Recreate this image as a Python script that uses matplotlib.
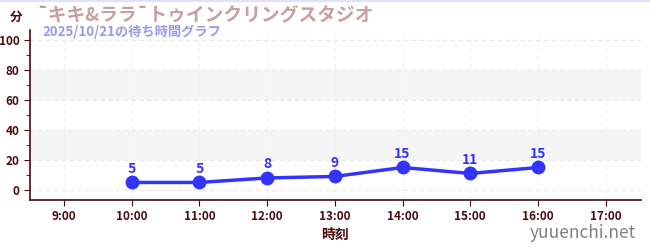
import matplotlib
matplotlib.use("Agg")
import matplotlib.pyplot as plt
from matplotlib.ticker import MultipleLocator

plt.rcParams['font.family'] = ['Noto Sans CJK JP', 'DejaVu Sans']

# data
hours = [10, 11, 12, 13, 14, 15, 16]
waits = [5, 5, 8, 9, 15, 11, 15]
xticks = [9, 10, 11, 12, 13, 14, 15, 16, 17]
xlabels = ["9:00", "10:00", "11:00", "12:00", "13:00", "14:00", "15:00", "16:00", "17:00"]
yticks = [0, 20, 40, 60, 80, 100]

title = "¯キキ&ララ¯トゥインクリングスタジオ"
subtitle = "2025/10/21の待ち時間グラフ"

dark = "#4a0a0a"
blue = "#3333ff"

fig = plt.figure(figsize=(6.5, 2.5), dpi=100)
ax = fig.add_axes([30/650, 50/250, 611/650, 170/250])

ax.set_xlim(8.5, 17.52)
ax.set_ylim(-6.7, 106.7)

# alternating bands
for lo in (20, 60):
    ax.axhspan(lo, lo + 20, color="#f5f5f5", zorder=0, lw=0)

for y in yticks:
    ax.axhline(y, color="#e8e8e8", ls=(0, (4, 3)), lw=0.8, zorder=0.5)
for x in xticks:
    ax.axvline(x, color="#f0f0f0", ls=(0, (4, 3)), lw=0.8, zorder=0.5)

ax.plot(hours, waits, color=blue, lw=2.5, marker="o", ms=9, zorder=3)
for h, w in zip(hours, waits):
    ax.annotate(str(w), (h, w), xytext=(0, 5), textcoords="offset points",
                ha="center", va="bottom", color=blue, fontsize=10, fontweight="bold")

ax.set_xticks(xticks)
ax.set_xticklabels(xlabels)
ax.set_yticks(yticks)
ax.yaxis.set_minor_locator(MultipleLocator(10))
ax.tick_params(axis="both", colors=dark, labelsize=8.5, length=4, width=0.8)
ax.tick_params(axis="y", which="minor", colors="#cc0000", length=3, width=0.8)
for lab in ax.get_xticklabels() + ax.get_yticklabels():
    lab.set_fontweight("bold")
    lab.set_color(dark)

for s in ("top", "right"):
    ax.spines[s].set_visible(False)
for s in ("left", "bottom"):
    ax.spines[s].set_color(dark)
    ax.spines[s].set_linewidth(1.2)

ax.set_xlabel("時刻", color=dark, fontsize=10, fontweight="bold", labelpad=3)

fig.text(16/650, 1 - 17/250, "分", color=dark, fontsize=9, fontweight="bold",
         ha="center", va="center")
fig.text(36/650, 1 - 15/250, title, color="#c8a0a0", fontsize=13.5, fontweight="bold",
         ha="left", va="center")
fig.text(42/650, 1 - 32/250, subtitle, color="#9999ee", fontsize=9.5, fontweight="bold",
         ha="left", va="center")
fig.text(636/650, 1 - 233/250, "yuuenchi.net", color="#808080", fontsize=12.5,
         ha="right", va="center")

fig.add_artist(plt.Line2D([0, 1], [0.998, 0.998], color="#e0e0ff", lw=1.5,
                          transform=fig.transFigure))

fig.savefig("out.png", dpi=100)
